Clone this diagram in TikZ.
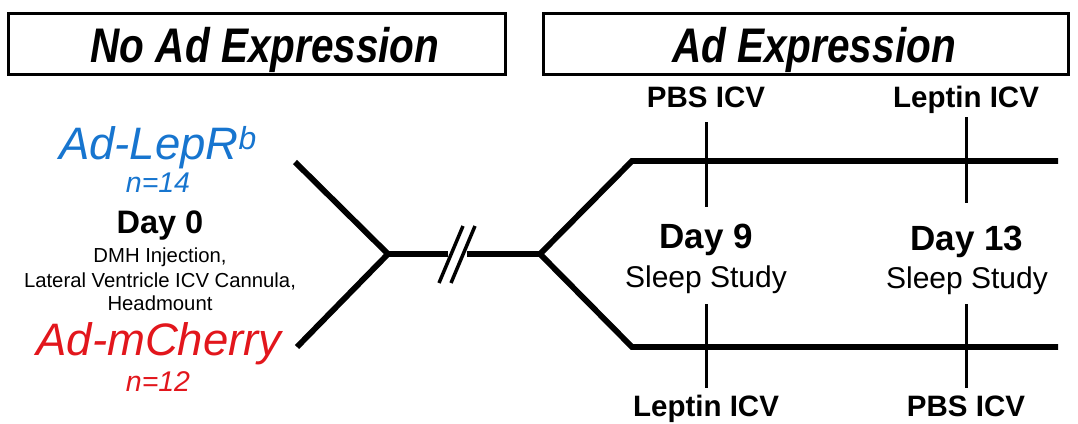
\documentclass[tikz,border=0pt]{standalone}
\usepackage{fontspec}
\usepackage{graphicx}
\setmainfont{Liberation Sans}
\setsansfont{Liberation Sans}
\definecolor{adblue}{RGB}{23,117,207}
\definecolor{adred}{RGB}{226,22,28}
\newcommand\myfs[1]{\fontsize{#1}{#1}\selectfont}
\newcommand\tallify[1]{\scalebox{1}[1.2]{#1}}
\begin{document}
\begin{tikzpicture}[x=1pt,y=-1pt,
  hdrbox/.style={draw, line width=3pt, inner sep=0pt, minimum height=61pt},
  mainline/.style={line width=5.8pt},
  tickline/.style={line width=3pt},
  slashline/.style={line width=3.5pt},
  lbl/.style={anchor=base, inner sep=0pt},
  hdrtxt/.style={lbl, font=\myfs{40.5}\bfseries\itshape},
  icv/.style={lbl, font=\myfs{29.5}\bfseries},
  daytxt/.style={lbl, font=\myfs{35}\bfseries},
  sleeptxt/.style={lbl, font=\myfs{30}},
  grp/.style={lbl, font=\myfs{45.5}\itshape},
  ntxt/.style={lbl, font=\myfs{28.5}\itshape},
  small/.style={lbl, font=\myfs{20.3}},
]
\useasboundingbox (0,0) rectangle (1078,423);
% header boxes
\node[hdrbox, minimum width=497pt] (noadbox) at (256.5,43.5) {};
\node[hdrbox, minimum width=525pt] (adbox) at (805.5,43.5) {};
\node[hdrtxt] (noadtxt) at (265,62) {\tallify{No Ad Expression}};
\node[hdrtxt] (adtxt) at (814,62) {\tallify{Ad Expression}};
% left labels
\node[grp, text=adblue] (lepr) at (158,159) {Ad-LepR\textsuperscript{b}};
\node[ntxt, text=adblue] (n14) at (158,192) {n=14};
\node[lbl, font=\myfs{32.5}\bfseries] (day0) at (160,233) {Day 0};
\node[small] (dmh) at (160,262) {DMH Injection,};
\node[small] (lat) at (160,287) {Lateral Ventricle ICV Cannula,};
\node[small] (head) at (160,310) {Headmount};
\node[grp, text=adred] (mch) at (159,355) {Ad-mCherry};
\node[ntxt, text=adred] (n12) at (158,391) {n=12};
% timeline
\coordinate (ul) at (295,162);
\coordinate (ll) at (297,347);
\coordinate (j1) at (388,254);
\coordinate (b1) at (448,254);
\coordinate (b2) at (467,254);
\coordinate (j2) at (540,254);
\coordinate (uc) at (632,161);
\coordinate (lc) at (632,347);
\coordinate (ue) at (1058,161);
\coordinate (le) at (1058,347);
\draw[mainline] (ul) -- (j1) -- (ll);
\draw[mainline] (j1) -- (b1);
\draw[mainline] (b2) -- (j2);
\draw[mainline] (ue) -- (uc) -- (j2) -- (lc) -- (le);
\coordinate (s1a) at (439,283); \coordinate (s1b) at (463,226);
\coordinate (s2a) at (451,283); \coordinate (s2b) at (475,226);
\draw[slashline] (s1a) -- (s1b);
\draw[slashline] (s2a) -- (s2b);
% ticks
\coordinate (t1a) at (706,122); \coordinate (t1b) at (706,207);
\coordinate (t2a) at (966,117); \coordinate (t2b) at (966,203);
\coordinate (t3a) at (706,304); \coordinate (t3b) at (706,388);
\coordinate (t4a) at (966,304); \coordinate (t4b) at (966,388);
\draw[tickline] (t1a) -- (t1b);
\draw[tickline] (t2a) -- (t2b);
\draw[tickline] (t3a) -- (t3b);
\draw[tickline] (t4a) -- (t4b);
% right labels
\node[icv] (pbs1) at (706,107) {PBS ICV};
\node[icv] (lep1) at (966,107) {Leptin ICV};
\node[daytxt] (day9) at (706,248) {Day 9};
\node[daytxt] (day13) at (967,250) {Day 13};
\node[sleeptxt] (sl1) at (706,287) {Sleep Study};
\node[sleeptxt] (sl2) at (967,288) {Sleep Study};
\node[icv] (lep2) at (706,416.5) {Leptin ICV};
\node[icv] (pbs2) at (966,416.5) {PBS ICV};
\end{tikzpicture}
\end{document}
